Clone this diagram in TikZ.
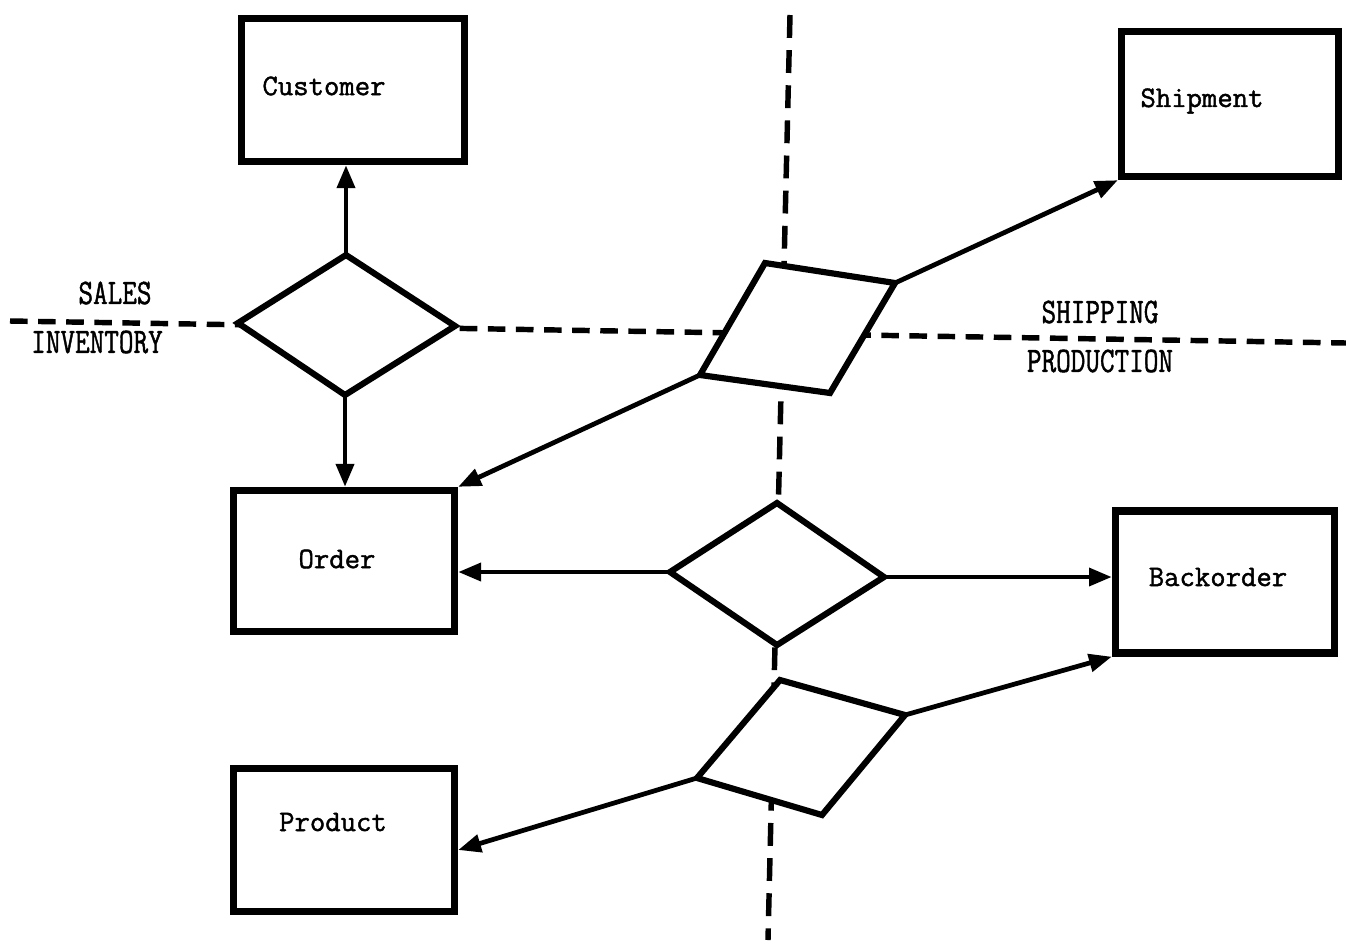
\documentclass[tikz,border=0pt]{standalone}
\usepackage{fontspec}
\newfontfamily\typer[FakeBold=1.4]{Latin Modern Mono}
\usetikzlibrary{arrows.meta}

\begin{document}
\begin{tikzpicture}[x=0.02cm,y=-0.02cm,
  entity/.style={draw, line width=4.2pt, fill=white, inner sep=0pt},
  rel/.style={draw, line width=3.5pt, fill=white, line join=miter},
  link/.style={line width=2.7pt, -{Triangle[length=13pt,width=10pt]}},
  border/.style={line width=3.1pt, dash pattern=on 10pt off 6pt},
  vborder/.style={line width=3.1pt, dash pattern=on 13pt off 7pt},
  lbl/.style={font=\typer\fontsize{17}{17}\selectfont, inner sep=0pt},
  arealbl/.style={font=\typer\fontsize{17}{17}\selectfont, inner sep=0pt}]

\useasboundingbox (0,0) rectangle (1346,944);

% area boundaries
\draw[border] (10,321) coordinate (hA) -- (1346,343) coordinate (hB);
\draw[vborder] (790,15) coordinate (vA) -- (768,940) coordinate (vB);

% area names
\node[arealbl] (sales) at (115,293) {\scalebox{0.95}[1.2]{SALES}};
\node[arealbl] (inventory) at (97,342) {\scalebox{0.95}[1.2]{INVENTORY}};
\node[arealbl] (shipping) at (1100,312) {\scalebox{0.95}[1.2]{SHIPPING}};
\node[arealbl] (production) at (1100,361) {\scalebox{0.95}[1.2]{PRODUCTION}};

% entities
\node[entity, minimum width=4.46cm, minimum height=2.86cm] (customer) at (353,90) {};
\node[entity, minimum width=4.34cm, minimum height=2.90cm] (shipment) at (1230,104) {};
\node[entity, minimum width=4.42cm, minimum height=2.82cm] (order) at (344,561) {};
\node[entity, minimum width=4.38cm, minimum height=2.84cm] (backorder) at (1225,582) {};
\node[entity, minimum width=4.42cm, minimum height=2.86cm] (product) at (344,840) {};

\node[lbl] (customer-t) at (324,86) {Customer};
\node[lbl] (shipment-t) at (1202,101) {Shipment};
\node[lbl] (order-t) at (337,559) {Order};
\node[lbl] (backorder-t) at (1218,577) {Backorder};
\node[lbl] (product-t) at (333,822) {Product};

% relationships
\draw[rel] (346,255) coordinate (d1t) -- (455,326) coordinate (d1r)
  -- (345,395) coordinate (d1b) -- (238,323) coordinate (d1l) -- cycle;
\draw[rel] (765,263) coordinate (p2tl) -- (895,283) coordinate (p2tr)
  -- (830,393) coordinate (p2br) -- (700,375) coordinate (p2bl) -- cycle;
\draw[rel] (777,503) coordinate (d3t) -- (884,577) coordinate (d3r)
  -- (777,645) coordinate (d3b) -- (670,572) coordinate (d3l) -- cycle;
\draw[rel] (780,680) coordinate (p4tl) -- (905,715) coordinate (p4tr)
  -- (822,815) coordinate (p4br) -- (697,778) coordinate (p4bl) -- cycle;

% connectors
\draw[link] (d1t) -- (d1t |- customer.south);
\draw[link] (d1b) -- (d1b |- order.north);
\draw[link] (p2tr) -- (shipment.south west);
\draw[link] (p2bl) -- (order.north east);
\draw[link] (d3l) -- (d3l -| order.east);
\draw[link] (d3r) -- (d3r -| backorder.west);
\draw[link] (p4tr) -- (backorder.south west);
\draw[link] (p4bl) -- ([yshift=-0.2cm]product.east);

\end{tikzpicture}
\end{document}
